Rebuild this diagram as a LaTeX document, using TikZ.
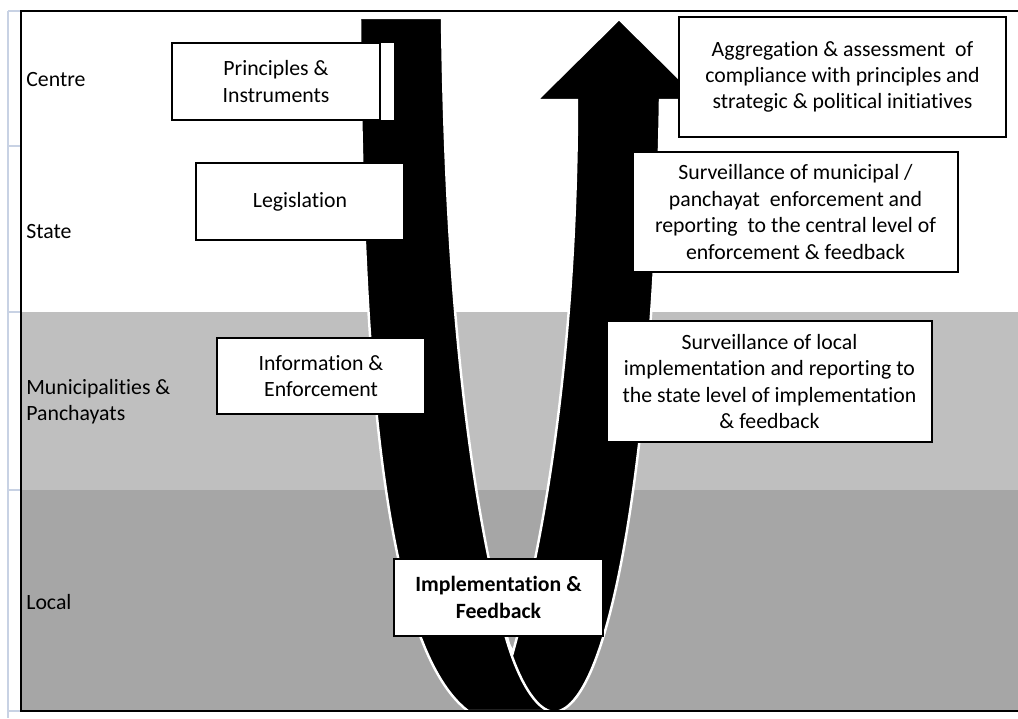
\documentclass[tikz,border=0pt]{standalone}
\usepackage{fontspec}
\setmainfont{Carlito}[Ligatures=NoCommon]
\definecolor{gridblue}{RGB}{200,210,228}
\definecolor{midgrey}{RGB}{191,191,191}
\definecolor{darkgrey}{RGB}{166,166,166}

\begin{document}
\begin{tikzpicture}[x=0.02cm, y=-0.02cm,
		every node/.style={font=\fontsize{12.4}{15}\selectfont},
		box/.style={draw=black, line width=1.1pt, fill=white, align=center, inner sep=2pt},
		level/.style={anchor=west, inner sep=0pt, align=left},
		band/.style={fill=black, draw=white, line width=1.4pt}]
			\useasboundingbox (0,0) rectangle (1018,718);
			%%%%%%%%%%%%%%%%%%%%%%%%%%%%%%%%
			\fill[midgrey] (21,312) rectangle (1018,490);
			\fill[darkgrey] (21,490) rectangle (1018,711);
			\draw[gridblue, line width=0.8pt] (8,11)--(8,718);
			\foreach \y in {11,146,312,490,711}
				\draw[gridblue, line width=0.8pt] (8,\y)--(21,\y);
			%%%%%%%%%%%%%%%%%%%%%%%%%%%%%%%%
			% going down
			\path[band] (360,18) .. controls (362,300) and (375,640) .. (468,711)
				--(560,711)--(512,655)
				.. controls (462,480) and (445,250) .. (442,18) --cycle;
			% coming back up
			\path[band] (507,641) .. controls (517,675) and (535,712) .. (555,712)
				.. controls (615,705) and (655,420) .. (660,100)
				--(701,100)--(619,19)--(537,100)--(577,100)
				.. controls (577,300) and (555,500) .. (513,652) --cycle;
			%%%%%%%%%%%%%%%%%%%%%%%%%%%%%%%%
			\draw[line width=1.2pt] (1018,11)--(21,11)--(21,711)--(1018,711);
			%%%%%%%%%%%%%%%%%%%%%%%%%%%%%%%%
			\node[level] (centre) at (26,80){Centre};
			\node[level] (state) at (26,232){State};
			\node[level] (munic) at (26,402){Municipalities \&\\Panchayats};
			\node[level] (local) at (26,602){Local};
			%%%%%%%%%%%%%%%%%%%%%%%%%%%%%%%%
			\fill[white] (380,43) rectangle (394,120);
			\node[box, minimum width=4.16cm, minimum height=1.54cm] (principles) at (276,81.5){Principles \&\\Instruments};
			\node[box, minimum width=4.16cm, minimum height=1.54cm] (legislation) at (300,201.5){Legislation};
			\node[box, minimum width=4.16cm, minimum height=1.52cm] (info) at (321,376){Information \&\\Enforcement};
			\node[box, minimum width=4.18cm, minimum height=1.54cm, font=\fontsize{12.4}{15}\selectfont\bfseries] (impl) at (498.5,597.5){Implementation \&\\Feedback};
			%%%%%%%%%%%%%%%%%%%%%%%%%%%%%%%%
			\node[box, minimum width=6.54cm, minimum height=2.4cm] (aggregation) at (842.5,77){Aggregation \& assessment\ \ of\\compliance with principles and\\strategic \& political initiatives};
			\node[box, minimum width=6.5cm, minimum height=2.4cm] (survstate) at (795.5,212){Surveillance of municipal /\\panchayat\ \ enforcement and\\reporting\ \ to the central level of\\enforcement \& feedback};
			\node[box, minimum width=6.5cm, minimum height=2.42cm] (survlocal) at (769.5,381.5){Surveillance of local\\implementation and reporting to\\the state level of implementation\\\& feedback};
		\end{tikzpicture}
\end{document}
